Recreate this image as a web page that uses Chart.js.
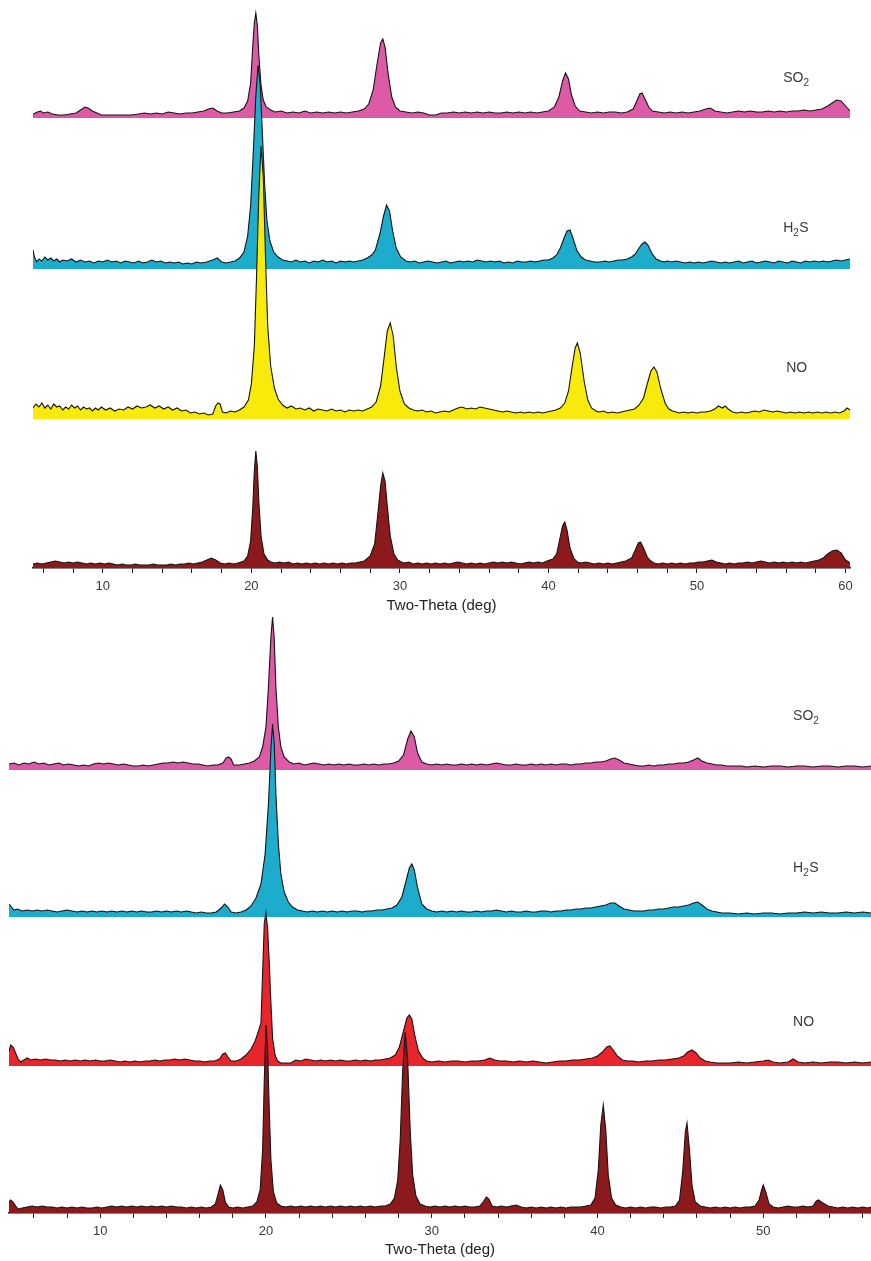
<!DOCTYPE html>
<html>
<head>
<meta charset="utf-8">
<script src="https://cdn.jsdelivr.net/npm/chart.js@4.4.1/dist/chart.umd.min.js"></script>
<style>
  html, body { margin: 0; padding: 0; background: #fff; }
  #wrap { position: relative; width: 871px; height: 1261px; overflow: hidden; }
  #topBox { position: absolute; left: 0; top: 0; }
  #bottomBox { position: absolute; left: 0; top: 600px; }
</style>
</head>
<body>
<div id="wrap">
  <div id="topBox"><canvas id="topChart" width="871" height="622"></canvas></div>
  <div id="bottomBox"><canvas id="bottomChart" width="871" height="661"></canvas></div>
</div>
<script>
/// === DATA (two-theta in deg, intensity in arbitrary counts above each trace's baseline) === ///
const gasNames = ['SO2', 'H2S', 'NO', 'fresh'];

// upper panel
const so2Top = [[5.3,1],[5.6,3],[5.8,4],[6.0,2],[6.3,3],[6.6,1],[7.0,0],[7.4,0],[7.8,1],[8.2,2],[8.5,5],[8.8,8],[9.0,7],[9.3,4],[9.6,2],[9.9,0],[10.5,0],[11.2,0],[11.9,0],[12.4,1],[12.8,2],[13.2,1],[13.6,2],[14.0,1],[14.4,3],[14.8,2],[15.2,1],[15.6,2],[16.0,2],[16.4,3],[16.8,4],[17.1,6],[17.4,7],[17.7,4],[18.0,2],[18.4,2],[18.8,3],[19.2,4],[19.5,7],[19.75,14],[19.95,32],[20.1,70],[20.2,92],[20.3,102],[20.4,90],[20.5,60],[20.65,30],[20.8,15],[21.0,8],[21.3,5],[21.6,3],[22.0,4],[22.4,2],[22.8,3],[23.2,2],[23.6,4],[24.0,2],[24.4,3],[24.8,2],[25.2,3],[25.6,2],[26.0,3],[26.4,2],[26.8,3],[27.2,4],[27.6,6],[27.9,11],[28.2,25],[28.45,50],[28.7,72],[28.85,76],[29.0,68],[29.2,42],[29.45,18],[29.7,8],[30.0,4],[30.4,3],[30.8,2],[31.2,3],[31.6,2],[32.0,0],[32.4,0],[32.8,2],[33.2,2],[33.6,3],[34.0,2],[34.4,3],[34.8,2],[35.2,3],[35.6,2],[36.0,3],[36.4,2],[36.8,2],[37.2,3],[37.6,2],[38.0,3],[38.4,2],[38.8,3],[39.2,2],[39.6,3],[40.0,4],[40.4,8],[40.7,18],[40.95,34],[41.15,42],[41.35,36],[41.55,20],[41.8,9],[42.1,4],[42.5,3],[42.9,2],[43.3,3],[43.7,2],[44.1,3],[44.5,3],[44.9,2],[45.3,3],[45.7,6],[45.95,14],[46.15,21],[46.3,22],[46.5,16],[46.75,8],[47.0,4],[47.4,3],[47.8,2],[48.2,3],[48.6,2],[49.0,3],[49.4,2],[49.8,3],[50.2,4],[50.6,6],[50.9,7],[51.2,4],[51.6,3],[52.0,2],[52.4,3],[52.8,4],[53.2,3],[53.6,4],[54.0,3],[54.4,3],[54.8,4],[55.2,3],[55.6,4],[56.0,3],[56.4,4],[56.8,4],[57.2,5],[57.6,4],[58.0,5],[58.4,6],[58.8,9],[59.1,12],[59.4,15],[59.7,14],[60.0,9],[60.3,4]];

const h2sTop = [[5.3,16],[5.4,9],[5.55,4],[5.7,7],[5.9,5],[6.1,9],[6.3,6],[6.5,8],[6.7,5],[6.9,7],[7.1,4],[7.3,6],[7.6,5],[7.9,7],[8.2,4],[8.5,6],[8.8,4],[9.1,5],[9.4,3],[9.7,5],[10.0,4],[10.3,6],[10.6,4],[10.9,5],[11.2,3],[11.5,5],[11.8,4],[12.1,3],[12.4,5],[12.7,3],[13.0,4],[13.3,6],[13.6,4],[13.9,5],[14.2,3],[14.5,4],[14.8,3],[15.1,4],[15.4,2],[15.7,3],[16.0,2],[16.3,4],[16.6,3],[17.0,4],[17.4,6],[17.7,8],[18.0,4],[18.3,3],[18.6,4],[18.9,5],[19.2,8],[19.5,14],[19.75,30],[19.95,60],[20.15,120],[20.3,170],[20.45,201],[20.6,180],[20.75,130],[20.9,80],[21.05,45],[21.25,25],[21.5,14],[21.8,9],[22.1,6],[22.4,5],[22.7,4],[23.0,6],[23.3,4],[23.6,5],[23.9,3],[24.2,5],[24.5,4],[24.8,6],[25.1,4],[25.4,5],[25.7,3],[26.0,5],[26.3,4],[26.6,5],[26.9,4],[27.2,5],[27.5,6],[27.8,8],[28.1,11],[28.35,16],[28.65,32],[28.9,50],[29.1,61],[29.3,55],[29.5,36],[29.75,18],[30.05,9],[30.4,5],[30.7,4],[31.0,5],[31.3,3],[31.6,4],[31.9,5],[32.2,4],[32.5,3],[32.8,4],[33.1,5],[33.4,3],[33.7,4],[34.0,5],[34.3,4],[34.6,5],[34.9,4],[35.2,6],[35.5,5],[35.8,4],[36.1,5],[36.4,4],[36.7,5],[37.0,3],[37.3,4],[37.6,3],[37.9,5],[38.2,4],[38.5,4],[38.8,5],[39.1,4],[39.4,5],[39.7,6],[40.0,6],[40.3,8],[40.55,11],[40.8,18],[41.05,28],[41.25,35],[41.45,36],[41.65,28],[41.9,16],[42.2,9],[42.5,6],[42.8,5],[43.1,4],[43.5,4],[43.8,5],[44.1,4],[44.4,5],[44.7,6],[45.0,6],[45.3,7],[45.6,9],[45.85,12],[46.1,18],[46.3,22],[46.5,24],[46.7,21],[46.95,13],[47.25,7],[47.55,5],[47.8,4],[48.0,5],[48.3,4],[48.6,5],[48.9,4],[49.2,3],[49.5,4],[49.8,3],[50.1,4],[50.4,3],[50.7,4],[51.0,5],[51.3,4],[51.6,3],[51.9,4],[52.2,3],[52.5,4],[52.8,5],[53.1,3],[53.4,4],[53.7,5],[54.0,3],[54.3,4],[54.6,5],[54.9,4],[55.2,3],[55.5,5],[55.8,4],[56.1,3],[56.4,5],[56.7,4],[57.0,3],[57.3,5],[57.6,4],[57.9,5],[58.2,4],[58.5,5],[58.8,4],[59.1,5],[59.4,6],[59.7,5],[60.0,6],[60.3,7]];

const noTop = [[5.3,8],[5.5,12],[5.7,9],[5.9,13],[6.1,8],[6.3,11],[6.5,7],[6.7,12],[6.9,9],[7.1,10],[7.3,6],[7.5,9],[7.7,7],[7.9,11],[8.1,8],[8.3,10],[8.5,6],[8.7,9],[8.9,7],[9.1,8],[9.3,5],[9.5,8],[9.7,6],[9.9,9],[10.2,6],[10.5,8],[10.8,5],[11.1,7],[11.4,6],[11.7,9],[12.0,7],[12.3,10],[12.6,8],[12.9,9],[13.2,11],[13.5,8],[13.8,10],[14.1,7],[14.4,9],[14.7,6],[15.0,8],[15.3,5],[15.6,6],[15.9,3],[16.2,4],[16.5,2],[16.8,3],[17.1,1],[17.4,2],[17.6,10],[17.75,13],[17.9,12],[18.05,4],[18.3,3],[18.6,5],[18.9,4],[19.2,6],[19.5,9],[19.8,16],[20.0,32],[20.2,70],[20.35,140],[20.5,220],[20.65,270],[20.8,240],[20.95,160],[21.1,90],[21.3,50],[21.55,28],[21.8,17],[22.1,11],[22.4,8],[22.7,10],[23.0,7],[23.3,8],[23.6,6],[23.9,8],[24.2,5],[24.5,7],[24.8,6],[25.1,5],[25.4,7],[25.7,5],[26.0,6],[26.3,4],[26.6,6],[26.9,5],[27.2,6],[27.5,5],[27.8,7],[28.1,9],[28.4,14],[28.7,30],[28.95,60],[29.15,85],[29.35,93],[29.55,80],[29.75,50],[30.0,25],[30.3,12],[30.6,8],[30.9,6],[31.2,5],[31.5,6],[31.8,4],[32.1,5],[32.4,3],[32.7,4],[33.0,5],[33.3,4],[33.6,6],[33.9,8],[34.2,9],[34.5,7],[34.8,8],[35.1,7],[35.4,9],[35.7,8],[36.0,7],[36.3,6],[36.6,5],[36.9,4],[37.2,5],[37.5,4],[37.8,3],[38.1,4],[38.4,3],[38.7,4],[39.0,3],[39.3,4],[39.6,3],[39.9,4],[40.2,5],[40.5,6],[40.8,8],[41.1,13],[41.35,25],[41.6,50],[41.8,68],[41.95,73],[42.15,62],[42.4,35],[42.65,16],[42.9,8],[43.2,5],[43.4,4],[43.7,5],[44.0,3],[44.3,4],[44.6,3],[44.9,4],[45.2,5],[45.5,6],[45.8,7],[46.1,11],[46.4,18],[46.65,32],[46.9,45],[47.1,49],[47.3,44],[47.55,28],[47.85,13],[48.1,7],[48.35,5],[48.6,4],[48.8,3],[49.1,4],[49.4,3],[49.7,4],[50.0,3],[50.3,4],[50.6,4],[50.9,5],[51.2,7],[51.45,10],[51.7,8],[51.9,10],[52.1,7],[52.4,4],[52.7,3],[53.0,4],[53.3,3],[53.6,4],[53.9,5],[54.2,4],[54.5,6],[54.8,5],[55.1,4],[55.4,5],[55.7,4],[56.0,3],[56.3,4],[56.6,3],[56.9,4],[57.2,3],[57.5,4],[57.8,3],[58.1,4],[58.4,3],[58.7,4],[59.0,3],[59.3,4],[59.6,3],[59.9,5],[60.1,8],[60.3,6]];

const freshTop = [[5.3,2],[5.6,3],[5.9,2],[6.2,3],[6.5,4],[6.8,5],[7.1,4],[7.4,3],[7.7,4],[8.0,3],[8.3,4],[8.6,3],[8.9,2],[9.2,3],[9.5,2],[9.8,3],[10.1,2],[10.4,3],[10.7,2],[11.0,1],[11.3,2],[11.6,1],[11.9,1],[12.2,2],[12.5,1],[12.8,1],[13.1,1],[13.4,2],[13.7,1],[14.0,1],[14.3,1],[14.6,2],[14.9,1],[15.2,2],[15.5,2],[15.8,3],[16.1,2],[16.4,3],[16.7,4],[17.0,6],[17.3,8],[17.6,6],[17.9,3],[18.2,2],[18.5,3],[18.8,2],[19.1,3],[19.5,5],[19.75,10],[19.95,25],[20.1,60],[20.2,95],[20.3,115],[20.4,100],[20.5,65],[20.65,30],[20.85,12],[21.1,6],[21.3,4],[21.6,3],[21.9,4],[22.2,3],[22.5,4],[22.8,2],[23.1,3],[23.4,2],[23.7,3],[24.0,2],[24.3,3],[24.6,2],[24.9,3],[25.2,2],[25.5,3],[25.8,2],[26.1,3],[26.4,2],[26.7,3],[27.0,3],[27.3,4],[27.6,5],[28.0,10],[28.3,22],[28.5,50],[28.7,80],[28.85,93],[29.0,85],[29.15,60],[29.35,30],[29.6,12],[29.85,6],[30.1,4],[30.3,3],[30.6,4],[30.9,2],[31.2,3],[31.5,2],[31.8,3],[32.1,2],[32.4,3],[32.7,2],[33.0,3],[33.3,2],[33.6,3],[33.9,4],[34.2,3],[34.5,2],[34.8,3],[35.1,2],[35.4,3],[35.7,2],[36.0,3],[36.3,4],[36.6,3],[36.9,4],[37.2,3],[37.5,4],[37.8,3],[38.1,2],[38.4,3],[38.7,4],[39.0,3],[39.3,4],[39.6,3],[39.9,5],[40.3,7],[40.55,12],[40.75,26],[40.95,40],[41.1,44],[41.25,36],[41.45,18],[41.7,8],[41.95,4],[42.2,3],[42.5,4],[42.8,3],[43.1,2],[43.4,3],[43.7,2],[44.0,3],[44.3,2],[44.6,3],[44.9,4],[45.2,5],[45.6,8],[45.85,16],[46.05,23],[46.2,24],[46.4,18],[46.65,9],[46.9,5],[47.1,3],[47.4,2],[47.7,3],[48.0,2],[48.3,3],[48.6,2],[48.9,3],[49.2,2],[49.5,3],[49.8,3],[50.1,4],[50.4,4],[50.7,5],[51.0,6],[51.3,4],[51.6,3],[51.9,2],[52.2,3],[52.5,2],[52.8,3],[53.1,3],[53.4,4],[53.7,3],[54.0,4],[54.3,5],[54.6,4],[54.9,3],[55.2,4],[55.5,3],[55.8,4],[56.1,3],[56.4,4],[56.7,3],[57.0,4],[57.3,3],[57.6,4],[57.9,5],[58.2,6],[58.5,8],[58.8,12],[59.1,15],[59.4,16],[59.7,13],[60.0,6],[60.3,3]];

// lower panel
const so2Bottom = [[4.5,3],[4.8,4],[5.1,2],[5.4,4],[5.7,3],[6.0,5],[6.3,3],[6.6,4],[6.9,2],[7.2,3],[7.5,4],[7.8,2],[8.1,3],[8.4,2],[8.7,1],[9.0,2],[9.3,1],[9.6,3],[9.9,4],[10.2,3],[10.5,4],[10.8,3],[11.1,2],[11.4,3],[11.7,2],[12.0,1],[12.3,1],[12.6,2],[12.9,1],[13.2,2],[13.5,3],[13.8,4],[14.1,4],[14.4,5],[14.7,4],[15.0,5],[15.3,4],[15.6,3],[15.9,3],[16.2,2],[16.5,1],[16.8,2],[17.1,2],[17.4,4],[17.6,9],[17.75,10],[17.9,8],[18.05,2],[18.4,2],[18.7,3],[19.0,4],[19.3,6],[19.6,10],[19.8,20],[20.0,40],[20.15,80],[20.3,130],[20.4,150],[20.5,128],[20.6,80],[20.75,40],[20.9,20],[21.1,10],[21.4,5],[21.7,3],[22.0,4],[22.3,2],[22.6,3],[22.9,4],[23.2,3],[23.5,2],[23.8,3],[24.1,2],[24.4,3],[24.7,2],[25.0,3],[25.3,2],[25.6,2],[25.9,3],[26.2,2],[26.5,3],[26.8,2],[27.1,3],[27.4,3],[27.7,4],[28.0,6],[28.3,12],[28.55,28],[28.75,36],[28.95,30],[29.15,14],[29.4,5],[29.7,3],[30.0,2],[30.3,3],[30.6,2],[30.9,3],[31.2,2],[31.5,2],[31.8,3],[32.1,2],[32.4,3],[32.7,2],[33.0,3],[33.3,2],[33.6,3],[33.9,4],[34.2,3],[34.5,2],[34.8,2],[35.1,3],[35.4,2],[35.7,2],[36.0,3],[36.3,2],[36.6,3],[36.9,2],[37.2,3],[37.5,2],[37.8,3],[38.1,3],[38.4,2],[38.7,3],[39.0,3],[39.3,4],[39.6,4],[39.9,5],[40.2,5],[40.5,6],[40.8,8],[41.05,9],[41.3,7],[41.6,4],[41.9,3],[42.2,2],[42.5,1],[42.8,1],[43.1,2],[43.4,1],[43.7,2],[44.0,2],[44.3,3],[44.6,3],[44.9,4],[45.2,4],[45.5,5],[45.8,7],[46.05,9],[46.3,6],[46.6,4],[46.9,3],[47.2,2],[47.5,2],[47.8,1],[48.1,1],[48.4,1],[48.7,1],[49.0,0],[49.5,1],[50.0,0],[50.5,1],[51.0,1],[51.5,0],[52.0,1],[52.5,1],[53.0,0],[53.5,1],[54.0,1],[54.5,0],[55.0,1],[55.5,1],[56.0,0],[56.5,1]];

const h2sBottom = [[4.5,10],[4.6,8],[4.8,4],[5.0,5],[5.3,3],[5.6,4],[5.9,3],[6.2,4],[6.5,3],[6.8,4],[7.1,3],[7.4,2],[7.7,3],[8.0,4],[8.3,3],[8.6,2],[8.9,3],[9.2,2],[9.5,3],[9.8,2],[10.1,3],[10.4,2],[10.7,3],[11.0,2],[11.3,3],[11.6,2],[11.9,3],[12.2,2],[12.5,3],[12.8,2],[13.1,2],[13.4,3],[13.7,2],[14.0,3],[14.3,2],[14.6,3],[14.9,2],[15.2,3],[15.5,2],[15.8,1],[16.1,2],[16.4,1],[16.7,1],[17.0,2],[17.3,6],[17.5,10],[17.7,7],[17.9,2],[18.2,1],[18.5,2],[18.8,4],[19.1,8],[19.4,16],[19.7,30],[19.95,60],[20.15,110],[20.3,165],[20.4,190],[20.5,170],[20.6,120],[20.75,70],[20.9,40],[21.1,22],[21.35,12],[21.6,7],[21.9,4],[22.2,3],[22.5,2],[22.8,3],[23.1,2],[23.4,3],[23.7,2],[24.0,3],[24.3,2],[24.6,3],[24.9,2],[25.2,3],[25.5,3],[25.8,2],[26.1,3],[26.4,3],[26.7,4],[27.0,4],[27.3,5],[27.6,6],[27.9,9],[28.2,17],[28.45,33],[28.65,46],[28.8,50],[28.95,44],[29.15,26],[29.4,10],[29.7,5],[30.0,3],[30.3,2],[30.6,3],[30.9,2],[31.2,3],[31.5,2],[31.8,3],[32.1,2],[32.4,2],[32.7,3],[33.0,2],[33.3,3],[33.6,3],[33.9,4],[34.2,3],[34.5,2],[34.8,3],[35.1,2],[35.4,2],[35.7,3],[36.0,2],[36.3,2],[36.6,3],[36.9,3],[37.2,2],[37.5,3],[37.8,3],[38.1,4],[38.4,4],[38.7,5],[39.0,5],[39.3,6],[39.6,6],[39.9,7],[40.2,8],[40.5,9],[40.8,11],[41.05,11],[41.3,8],[41.6,5],[41.9,4],[42.2,3],[42.5,3],[42.8,3],[43.1,4],[43.4,4],[43.7,5],[44.0,5],[44.3,6],[44.6,7],[44.9,7],[45.2,8],[45.5,9],[45.8,11],[46.05,12],[46.3,9],[46.6,5],[46.9,3],[47.2,2],[47.5,1],[48.0,1],[48.5,0],[49.0,1],[49.5,0],[50.0,1],[50.5,1],[51.0,0],[51.5,1],[52.0,1],[52.5,2],[53.0,1],[53.5,2],[54.0,1],[54.5,1],[55.0,2],[55.5,1],[56.0,2],[56.5,1]];

const noBottom = [[4.5,12],[4.6,18],[4.75,16],[4.9,10],[5.05,4],[5.2,1],[5.4,3],[5.6,5],[5.8,3],[6.1,4],[6.4,3],[6.7,4],[7.0,3],[7.3,3],[7.6,2],[7.9,3],[8.2,2],[8.5,3],[8.8,2],[9.1,3],[9.4,2],[9.7,3],[10.0,2],[10.3,2],[10.6,3],[10.9,2],[11.2,1],[11.5,2],[11.8,1],[12.1,2],[12.4,1],[12.7,2],[13.0,2],[13.3,3],[13.6,2],[13.9,3],[14.2,3],[14.5,4],[14.8,3],[15.1,4],[15.4,3],[15.7,2],[16.0,2],[16.3,1],[16.6,2],[16.9,2],[17.2,4],[17.4,9],[17.55,10],[17.7,6],[17.9,2],[18.2,2],[18.5,4],[18.8,8],[19.1,14],[19.35,22],[19.55,32],[19.7,40],[19.8,90],[19.9,140],[20.0,150],[20.1,135],[20.2,100],[20.3,60],[20.4,25],[20.55,8],[20.7,2],[20.9,0],[21.2,0],[21.5,0],[21.8,3],[22.1,2],[22.4,4],[22.7,3],[23.0,2],[23.3,3],[23.6,2],[23.9,3],[24.2,2],[24.5,3],[24.8,2],[25.1,2],[25.4,3],[25.7,2],[26.0,3],[26.3,2],[26.6,3],[26.9,3],[27.2,4],[27.5,5],[27.8,8],[28.05,16],[28.3,32],[28.5,45],[28.65,48],[28.8,44],[29.0,26],[29.2,12],[29.45,5],[29.7,2],[30.0,1],[30.4,2],[30.8,1],[31.2,2],[31.6,2],[32.0,1],[32.4,2],[32.8,2],[33.2,3],[33.5,5],[33.8,3],[34.1,2],[34.5,2],[34.9,1],[35.3,2],[35.7,1],[36.1,2],[36.5,1],[36.9,0],[37.3,1],[37.7,2],[38.1,2],[38.5,3],[38.9,3],[39.3,4],[39.7,5],[40.0,7],[40.3,11],[40.55,16],[40.75,17],[40.95,13],[41.2,7],[41.5,3],[41.8,2],[42.1,2],[42.5,1],[42.9,2],[43.3,2],[43.7,3],[44.1,3],[44.5,4],[44.9,5],[45.2,7],[45.45,11],[45.7,13],[45.95,10],[46.2,5],[46.5,2],[46.8,1],[47.2,0],[47.6,0],[48.0,0],[48.5,1],[49.0,0],[49.5,1],[50.0,2],[50.3,3],[50.6,1],[51.0,0],[51.5,1],[51.8,4],[52.1,1],[52.5,0],[53.0,1],[53.5,0],[54.0,1],[54.5,1],[55.0,0],[55.5,1],[56.0,0],[56.5,1]];

const freshBottom = [[4.5,8],[4.6,10],[4.75,8],[4.9,4],[5.05,1],[5.3,2],[5.6,3],[5.9,4],[6.2,3],[6.5,4],[6.8,3],[7.1,3],[7.4,2],[7.7,3],[8.0,2],[8.3,3],[8.6,2],[8.9,3],[9.2,2],[9.5,2],[9.8,3],[10.1,2],[10.4,3],[10.7,4],[11.0,3],[11.3,4],[11.6,3],[11.9,4],[12.2,3],[12.5,4],[12.8,3],[13.1,4],[13.4,3],[13.7,4],[14.0,3],[14.3,4],[14.6,3],[14.9,3],[15.2,2],[15.5,3],[15.8,2],[16.1,3],[16.4,2],[16.7,3],[16.95,6],[17.1,15],[17.25,25],[17.4,20],[17.55,8],[17.75,3],[18.0,2],[18.3,3],[18.6,2],[18.9,3],[19.2,4],[19.45,8],[19.65,20],[19.8,60],[19.9,130],[20.0,185],[20.1,160],[20.2,100],[20.3,50],[20.45,18],[20.65,7],[20.9,4],[21.2,3],[21.5,4],[21.8,3],[22.1,4],[22.4,3],[22.7,4],[23.0,3],[23.3,4],[23.6,3],[23.9,4],[24.2,3],[24.5,4],[24.8,3],[25.1,4],[25.4,3],[25.7,4],[26.0,3],[26.3,4],[26.6,3],[26.9,4],[27.2,4],[27.5,6],[27.75,12],[27.95,30],[28.1,70],[28.25,140],[28.4,178],[28.55,150],[28.7,80],[28.85,35],[29.05,14],[29.3,6],[29.6,4],[29.9,3],[30.2,4],[30.5,3],[30.8,4],[31.1,3],[31.4,4],[31.7,3],[32.0,4],[32.3,3],[32.6,3],[32.9,4],[33.1,8],[33.3,13],[33.45,11],[33.65,4],[33.9,3],[34.2,4],[34.5,3],[34.8,4],[35.1,5],[35.4,3],[35.7,2],[36.0,3],[36.3,2],[36.6,3],[36.9,2],[37.2,3],[37.5,2],[37.8,3],[38.1,2],[38.4,3],[38.7,3],[39.0,3],[39.3,4],[39.6,5],[39.85,12],[40.05,40],[40.2,85],[40.35,105],[40.5,80],[40.65,35],[40.85,12],[41.1,5],[41.4,3],[41.7,2],[42.0,3],[42.3,2],[42.6,3],[42.9,2],[43.2,3],[43.5,3],[43.8,2],[44.1,3],[44.4,3],[44.7,4],[44.95,10],[45.15,40],[45.3,78],[45.4,87],[45.55,60],[45.7,25],[45.9,8],[46.2,4],[46.5,3],[46.8,2],[47.1,3],[47.4,2],[47.7,3],[48.0,2],[48.3,3],[48.6,2],[48.9,3],[49.2,3],[49.5,4],[49.75,10],[49.9,20],[50.0,25],[50.15,18],[50.35,6],[50.6,3],[50.9,2],[51.2,3],[51.5,4],[51.8,3],[52.1,3],[52.4,4],[52.7,3],[53.0,4],[53.2,9],[53.35,10],[53.5,8],[53.7,6],[53.9,4],[54.2,3],[54.5,2],[54.8,3],[55.1,2],[55.4,3],[55.7,2],[56.0,3],[56.3,2],[56.5,3]];

// baselines each trace is stacked on (same units)
const topOffsets = [453, 302, 152, 2];
const bottomOffsets = [446, 299, 150, 3];

// tick marks every 2 deg, labels only on the tens
const topTicks = [6,8,10,12,14,16,18,20,22,24,26,28,30,32,34,36,38,40,42,44,46,48,50,52,54,56,58,60];
const bottomTicks = [6,8,10,12,14,16,18,20,22,24,26,28,30,32,34,36,38,40,42,44,46,48,50,52,54,56];
const tickLabels = [10, 20, 30, 40, 50, 60];

/// === STYLE === ///
const FONT = "'Liberation Sans', Arial, sans-serif";
const topColors = ['#dc5aa6', '#1eaccc', '#f8ea0a', '#8c1a1c'];
const bottomColors = ['#dc5aa6', '#1eaccc', '#e9252b', '#8c1a1c'];

//Draw the gas names (with subscript digit) next to each trace
const gasLabelPlugin = {
  id: 'gasLabels',
  afterDatasetsDraw(chart, args, opts) {
    const { ctx, scales: { x, y } } = chart;
    ctx.save();
    ctx.fillStyle = '#3a3a3a';
    ctx.textBaseline = 'middle';
    ctx.textAlign = 'left';
    opts.items.forEach(item => {
      let px = x.getPixelForValue(item.x);
      const py = y.getPixelForValue(item.y);
      item.parts.forEach(part => {
        const isSub = part.sub;
        ctx.font = (isSub ? 10 : 14) + 'px ' + FONT;
        ctx.fillText(part.t, px, isSub ? py + 5 : py);
        px += ctx.measureText(part.t).width + (isSub ? 0.5 : 0);
      });
    });
    ctx.restore();
  }
};

const buildDatasets = (traces, offsets, colors) => {
  return traces.map((trace, i) => ({
    label: gasNames[i],
    data: trace.map(p => ({ x: p[0], y: p[1] + offsets[i] })),
    fill: { value: i === traces.length - 1 ? 0 : offsets[i] - 3 },
    backgroundColor: colors[i],
    borderColor: '#141414',
    borderWidth: 1.1,
    pointRadius: 0,
    tension: 0,
    order: traces.length - i
  }));
};

const makePanel = (canvasId, cfg) => {
  return new Chart(document.getElementById(canvasId), {
    type: 'line',
    data: { datasets: buildDatasets(cfg.traces, cfg.offsets, cfg.colors) },
    options: {
      responsive: false,
      animation: false,
      layout: { padding: { left: cfg.padLeft, right: cfg.padRight, top: 0, bottom: 0 } },
      plugins: {
        legend: { display: false },
        tooltip: { enabled: false },
        gasLabels: { items: cfg.labels }
      },
      scales: {
        x: {
          type: 'linear',
          min: cfg.xMin,
          max: cfg.xMax,
          afterBuildTicks: scale => {
            scale.ticks = cfg.ticks.map(v => ({ value: v }));
          },
          afterFit: scale => {
            scale.height = cfg.axisHeight;
          },
          border: { display: true, color: '#111', width: 1.6 },
          grid: { drawOnChartArea: false, drawTicks: true, tickLength: 5, color: '#222', lineWidth: 1 },
          ticks: {
            autoSkip: false,
            maxRotation: 0,
            padding: cfg.tickPad,
            color: '#3a3a3a',
            font: { family: FONT, size: 13 },
            callback: v => (tickLabels.includes(v) ? String(v) : '')
          },
          title: {
            display: true,
            text: 'Two-Theta (deg)',
            color: '#222',
            font: { family: FONT, size: 15 },
            padding: { top: 0, bottom: cfg.titlePad }
          }
        },
        y: { display: false, min: 0, max: cfg.yMax }
      }
    },
    plugins: [gasLabelPlugin]
  });
};

const so2Parts = [{ t: 'SO' }, { t: '2', sub: true }];
const h2sParts = [{ t: 'H' }, { t: '2', sub: true }, { t: 'S' }];
const noParts = [{ t: 'NO' }];

makePanel('topChart', {
  traces: [so2Top, h2sTop, noTop, freshTop],
  offsets: topOffsets,
  colors: topColors,
  xMin: 5.3, xMax: 60.3, yMax: 568,
  padLeft: 33, padRight: 21,
  ticks: topTicks,
  axisHeight: 54, tickPad: 6, titlePad: 7,
  labels: [
    { x: 55.8, y: 490, parts: so2Parts },
    { x: 55.8, y: 340, parts: h2sParts },
    { x: 56.0, y: 200, parts: noParts }
  ]
});

makePanel('bottomChart', {
  traces: [so2Bottom, h2sBottom, noBottom, freshBottom],
  offsets: bottomOffsets,
  colors: bottomColors,
  xMin: 4.5, xMax: 56.5, yMax: 613,
  padLeft: 9, padRight: 0,
  ticks: bottomTicks,
  axisHeight: 48, tickPad: 6, titlePad: 2,
  labels: [
    { x: 51.8, y: 497, parts: so2Parts },
    { x: 51.8, y: 345, parts: h2sParts },
    { x: 51.8, y: 191, parts: noParts }
  ]
});
</script>
</body>
</html>
